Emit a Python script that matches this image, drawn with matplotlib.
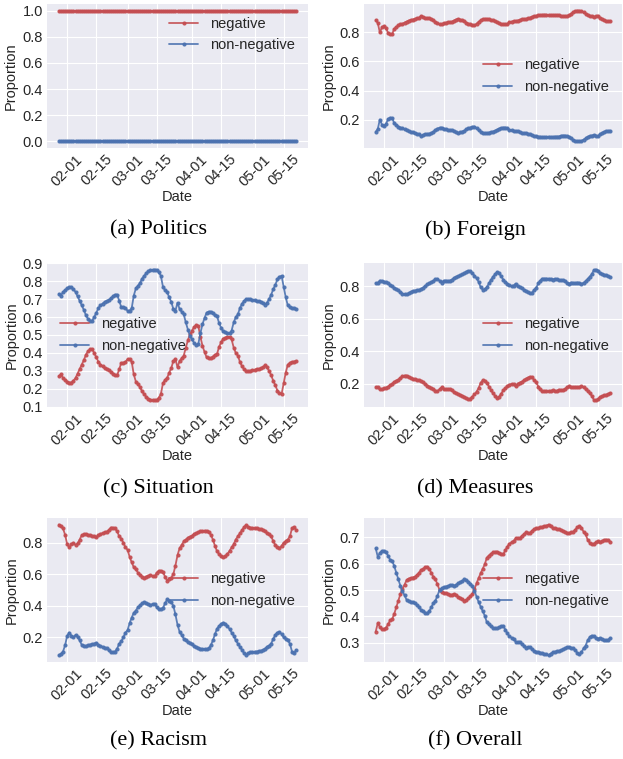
import matplotlib
matplotlib.use('Agg')
from matplotlib import pyplot as plt
from matplotlib.ticker import MultipleLocator
import matplotlib.dates as mdates
import pandas as pd

# daily share of "negative" posts per topic, 2020-01-28 .. 2020-05-21
dates = pd.date_range('2020-01-28', '2020-05-21', freq='D')

politics_neg = [1.0] * len(dates)

foreign_neg = [
    0.885, 0.865, 0.80, 0.835, 0.845, 0.83, 0.797, 0.787, 0.79, 0.825,
    0.838, 0.848, 0.855, 0.86, 0.868, 0.875, 0.882, 0.886, 0.889, 0.894,
    0.897, 0.902, 0.913, 0.906, 0.90, 0.899, 0.897, 0.894, 0.884, 0.873,
    0.862, 0.857, 0.855, 0.863, 0.867, 0.871, 0.871, 0.874, 0.882, 0.889,
    0.894, 0.889, 0.883, 0.877, 0.868, 0.861, 0.855, 0.85, 0.848, 0.86,
    0.873, 0.884, 0.891, 0.894, 0.894, 0.89, 0.886, 0.883, 0.877, 0.87,
    0.862, 0.858, 0.855, 0.855, 0.86, 0.87, 0.875, 0.878, 0.878, 0.882,
    0.887, 0.891, 0.893, 0.894, 0.897, 0.902, 0.909, 0.912, 0.915, 0.917,
    0.918, 0.922, 0.923, 0.922, 0.918, 0.92, 0.921, 0.918, 0.917, 0.917,
    0.912, 0.91, 0.91, 0.914, 0.918, 0.93, 0.94, 0.947, 0.951, 0.95,
    0.947, 0.938, 0.93, 0.919, 0.913, 0.91, 0.907, 0.91, 0.916, 0.902,
    0.892, 0.884, 0.88, 0.878, 0.877,
]

situation_neg = [
    0.27, 0.28, 0.26, 0.25, 0.24, 0.235, 0.235, 0.245, 0.26, 0.285,
    0.31, 0.335, 0.36, 0.39, 0.41, 0.42, 0.42, 0.40, 0.375, 0.35,
    0.335, 0.325, 0.315, 0.31, 0.305, 0.295, 0.285, 0.275, 0.275, 0.31,
    0.345, 0.345, 0.35, 0.365, 0.365, 0.35, 0.28, 0.24, 0.225, 0.21,
    0.185, 0.17, 0.155, 0.145, 0.14, 0.137, 0.135, 0.138, 0.15, 0.17,
    0.23, 0.25, 0.26, 0.29, 0.315, 0.355, 0.365, 0.32, 0.355, 0.37,
    0.385, 0.43, 0.47, 0.505, 0.525, 0.545, 0.555, 0.55, 0.49, 0.44,
    0.405, 0.375, 0.37, 0.37, 0.38, 0.39, 0.395, 0.435, 0.46, 0.48,
    0.485, 0.49, 0.49, 0.475, 0.43, 0.40, 0.385, 0.35, 0.325, 0.31,
    0.30, 0.30, 0.30, 0.305, 0.305, 0.31, 0.31, 0.315, 0.32, 0.33,
    0.32, 0.30, 0.275, 0.245, 0.22, 0.19, 0.175, 0.17, 0.23, 0.29,
    0.335, 0.345, 0.35, 0.352, 0.355,
]

measures_neg = [
    0.18, 0.178, 0.164, 0.167, 0.17, 0.175, 0.182, 0.19, 0.20, 0.21,
    0.218, 0.225, 0.235, 0.244, 0.25, 0.25, 0.243, 0.234, 0.228, 0.226,
    0.224, 0.221, 0.217, 0.208, 0.199, 0.188, 0.18, 0.174, 0.165, 0.157,
    0.153, 0.165, 0.177, 0.165, 0.164, 0.166, 0.165, 0.158, 0.148, 0.141,
    0.136, 0.132, 0.126, 0.119, 0.109, 0.104, 0.108, 0.12, 0.133, 0.15,
    0.172, 0.205, 0.22, 0.218, 0.205, 0.182, 0.16, 0.14, 0.125, 0.111,
    0.12, 0.138, 0.158, 0.173, 0.183, 0.194, 0.198, 0.195, 0.183, 0.20,
    0.206, 0.212, 0.22, 0.23, 0.237, 0.243, 0.238, 0.222, 0.208, 0.182,
    0.165, 0.152, 0.152, 0.152, 0.152, 0.155, 0.158, 0.153, 0.155, 0.163,
    0.16, 0.16, 0.167, 0.178, 0.184, 0.176, 0.178, 0.18, 0.176, 0.178,
    0.184, 0.178, 0.168, 0.155, 0.14, 0.125, 0.10, 0.096, 0.102, 0.118,
    0.123, 0.127, 0.131, 0.137, 0.142,
]

racism_neg = [
    0.915, 0.905, 0.89, 0.85, 0.79, 0.77, 0.79, 0.80, 0.785, 0.795,
    0.82, 0.848, 0.852, 0.855, 0.85, 0.846, 0.843, 0.84, 0.834, 0.848,
    0.856, 0.86, 0.865, 0.87, 0.88, 0.896, 0.895, 0.89, 0.872, 0.84,
    0.825, 0.80, 0.77, 0.755, 0.71, 0.675, 0.644, 0.63, 0.61, 0.597,
    0.585, 0.577, 0.585, 0.59, 0.594, 0.59, 0.587, 0.61, 0.622, 0.622,
    0.615, 0.585, 0.56, 0.572, 0.578, 0.60, 0.655, 0.72, 0.765, 0.785,
    0.808, 0.82, 0.832, 0.838, 0.845, 0.855, 0.862, 0.866, 0.872, 0.874,
    0.876, 0.875, 0.87, 0.85, 0.82, 0.78, 0.745, 0.728, 0.715, 0.707,
    0.715, 0.728, 0.748, 0.77, 0.79, 0.82, 0.84, 0.86, 0.88, 0.90,
    0.91, 0.90, 0.896, 0.893, 0.892, 0.89, 0.888, 0.885, 0.882, 0.872,
    0.861, 0.852, 0.84, 0.81, 0.785, 0.77, 0.766, 0.78, 0.80, 0.81,
    0.82, 0.84, 0.89, 0.9, 0.88,
]

overall_neg = [
    0.343, 0.375, 0.36, 0.352, 0.352, 0.358, 0.37, 0.386, 0.39, 0.41,
    0.435, 0.46, 0.485, 0.505, 0.52, 0.537, 0.543, 0.545, 0.547, 0.55,
    0.556, 0.565, 0.575, 0.58, 0.585, 0.588, 0.58, 0.565, 0.55, 0.54,
    0.522, 0.50, 0.493, 0.49, 0.487, 0.485, 0.483, 0.482, 0.485, 0.48,
    0.475, 0.471, 0.466, 0.46, 0.463, 0.468, 0.476, 0.486, 0.503, 0.525,
    0.545, 0.563, 0.58, 0.597, 0.622, 0.63, 0.637, 0.642, 0.644, 0.645,
    0.64, 0.637, 0.635, 0.65, 0.664, 0.675, 0.68, 0.685, 0.695, 0.696,
    0.695, 0.704, 0.71, 0.717, 0.715, 0.716, 0.724, 0.73, 0.733, 0.734,
    0.736, 0.739, 0.741, 0.743, 0.747, 0.74, 0.735, 0.733, 0.731, 0.73,
    0.727, 0.724, 0.72, 0.715, 0.715, 0.718, 0.72, 0.728, 0.737, 0.742,
    0.735, 0.72, 0.71, 0.69, 0.678, 0.672, 0.675, 0.68, 0.684, 0.681,
    0.685, 0.689, 0.69, 0.687, 0.682,
]

captions = ['(a) Politics', '(b) Foreign', '(c) Situation',
            '(d) Measures', '(e) Racism', '(f) Overall']
series = [politics_neg, foreign_neg, situation_neg,
          measures_neg, racism_neg, overall_neg]
legend_locs = ['upper right', 'center right', 'center left',
               'center right', 'center right', 'center right']
ytick_steps = [0.2, 0.2, 0.1, 0.2, 0.2, 0.1]

plt.style.use('seaborn-v0_8-darkgrid')
plt.rcParams['font.family'] = ['Liberation Sans', 'DejaVu Sans']
plt.rcParams['text.color'] = '#262626'
plt.rcParams['axes.labelcolor'] = '#262626'
plt.rcParams['xtick.color'] = '#262626'
plt.rcParams['ytick.color'] = '#262626'

W, H = 623, 759
fig = plt.figure(figsize=(W / 100, H / 100), dpi=100)

# axes boxes in pixels: (left, right) and (top, bottom)
cols = [(47, 308), (364, 622)]
rows = [(4, 148), (263, 407), (518, 662)]
cap_y = [230, 489, 741]
cap_x = [158, 475]

RED = '#C44E52'
BLUE = '#4C72B0'

for i, (cap, neg) in enumerate(zip(captions, series)):
    r, c = divmod(i, 2)
    x0, x1 = cols[c]
    y0, y1 = rows[r]
    ax = fig.add_axes([x0 / W, 1 - y1 / H, (x1 - x0) / W, (y1 - y0) / H])
    non_neg = [1 - v for v in neg]  # the two shares add up to one
    ax.plot(dates, neg, color=RED, marker='.', ms=4, lw=1.3,
            alpha=0.9, label='negative')
    ax.plot(dates, non_neg, color=BLUE, marker='.', ms=4, lw=1.3,
            alpha=0.9, label='non-negative')
    ax.xaxis.set_major_locator(mdates.DayLocator(bymonthday=[1, 15]))
    ax.xaxis.set_major_formatter(mdates.DateFormatter('%m-%d'))
    ax.yaxis.set_major_locator(MultipleLocator(ytick_steps[i]))
    ax.tick_params(axis='both', labelsize=10.5, length=0, pad=3)
    for lab in ax.get_xticklabels():
        lab.set_rotation(45)
    ax.set_xlabel('Date', fontsize=10.5, labelpad=1)
    ax.set_ylabel('Proportion', fontsize=10.5, labelpad=3)
    ax.legend(loc=legend_locs[i], fontsize=10.5, frameon=False, numpoints=1)
    fig.text(cap_x[c] / W, 1 - cap_y[r] / H, cap, ha='center', va='center',
             fontsize=16, family=['Liberation Serif', 'DejaVu Serif'],
             color='black')

fig.savefig('out.png', dpi=100)
